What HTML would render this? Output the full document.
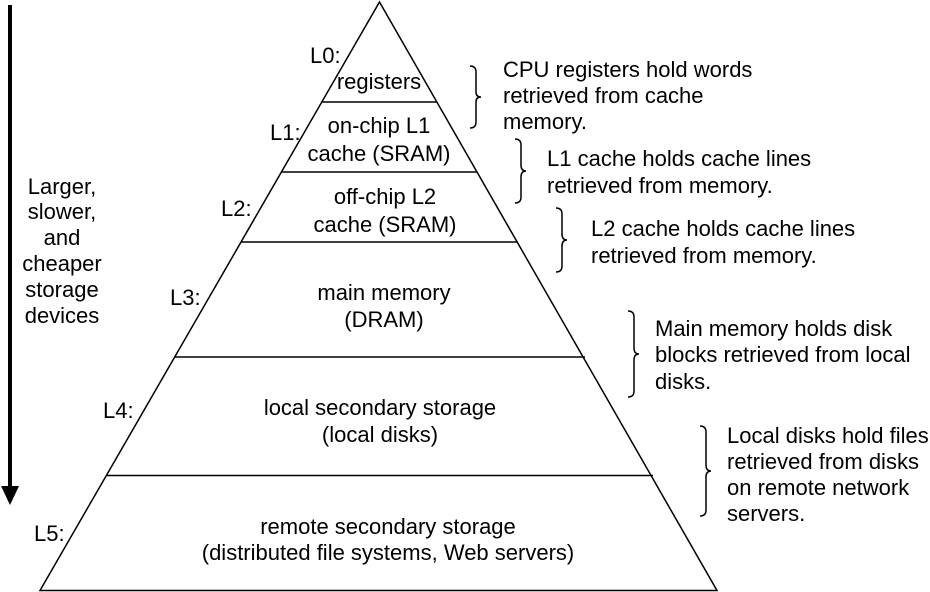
<!DOCTYPE html>
<html><head><style>body{margin:0;background:#fff}svg{display:block}</style></head><body>
<svg width="930" height="592" viewBox="0 0 930 592" xmlns="http://www.w3.org/2000/svg" font-family="Liberation Sans, Arial, sans-serif" font-size="22" fill="#000">
<g stroke="#000" stroke-width="1.5" fill="none">
<path d="M379.5 2 L40 590.5 L717 590.5 Z"/>
<line x1="321" y1="102" x2="437" y2="102"/>
<line x1="281" y1="172" x2="477" y2="172"/>
<line x1="241" y1="242" x2="518" y2="242"/>
<line x1="175" y1="357" x2="585" y2="357"/>
<line x1="107" y1="475.5" x2="653" y2="475.5"/>
<path d="M470 66 q6 0 6 6 v20 q0 5 5 5 q-5 0 -5 5 v20 q0 6 -6 6"/>
<path d="M515 139 q6 0 6 6 v20 q0 6 5 6 q-5 0 -5 6 v20 q0 6 -6 6"/>
<path d="M556 208 q6 0 6 6 v20 q0 6 5 6 q-5 0 -5 6 v20 q0 6 -6 6"/>
<path d="M628 311 q6 0 6 6 v31 q0 6 5 6 q-5 0 -5 6 v31 q0 6 -6 6"/>
<path d="M700 426 q6 0 6 6 v33 q0 6 5 6 q-5 0 -5 6 v33 q0 6 -6 6"/>
</g>
<rect x="8" y="5" width="4" height="482"/>
<path d="M1 486 L19 486 L10 505 Z"/>
<g text-anchor="middle">
<text x="379" y="89">registers</text>
<text x="379" y="133">on-chip L1</text>
<text x="379" y="161">cache (SRAM)</text>
<text x="385" y="204">off-chip L2</text>
<text x="385" y="232">cache (SRAM)</text>
<text x="384" y="300">main memory</text>
<text x="384" y="327">(DRAM)</text>
<text x="380" y="415">local secondary storage</text>
<text x="380" y="442">(local disks)</text>
<text x="388" y="534">remote secondary storage</text>
<text x="388" y="560">(distributed file systems, Web servers)</text>
<text x="62" y="194">Larger,</text>
<text x="62" y="219">slower,</text>
<text x="62" y="245">and</text>
<text x="62" y="271">cheaper</text>
<text x="62" y="297">storage</text>
<text x="62" y="323">devices</text>
</g>
<text x="310" y="63">L0:</text>
<text x="270" y="140">L1:</text>
<text x="221" y="216">L2:</text>
<text x="170" y="305">L3:</text>
<text x="103" y="418">L4:</text>
<text x="34" y="541">L5:</text>
<text x="503" y="77">CPU registers hold words</text>
<text x="503" y="103">retrieved from cache</text>
<text x="503" y="129">memory.</text>
<text x="547" y="166">L1 cache holds cache lines</text>
<text x="547" y="193">retrieved from memory.</text>
<text x="591" y="236">L2 cache holds cache lines</text>
<text x="591" y="263">retrieved from memory.</text>
<text x="655" y="336">Main memory holds disk</text>
<text x="655" y="362">blocks retrieved from local</text>
<text x="655" y="389">disks.</text>
<text x="727" y="443">Local disks hold files</text>
<text x="727" y="469">retrieved from disks</text>
<text x="727" y="495">on remote network</text>
<text x="727" y="521">servers.</text>
</svg>
</body></html>
